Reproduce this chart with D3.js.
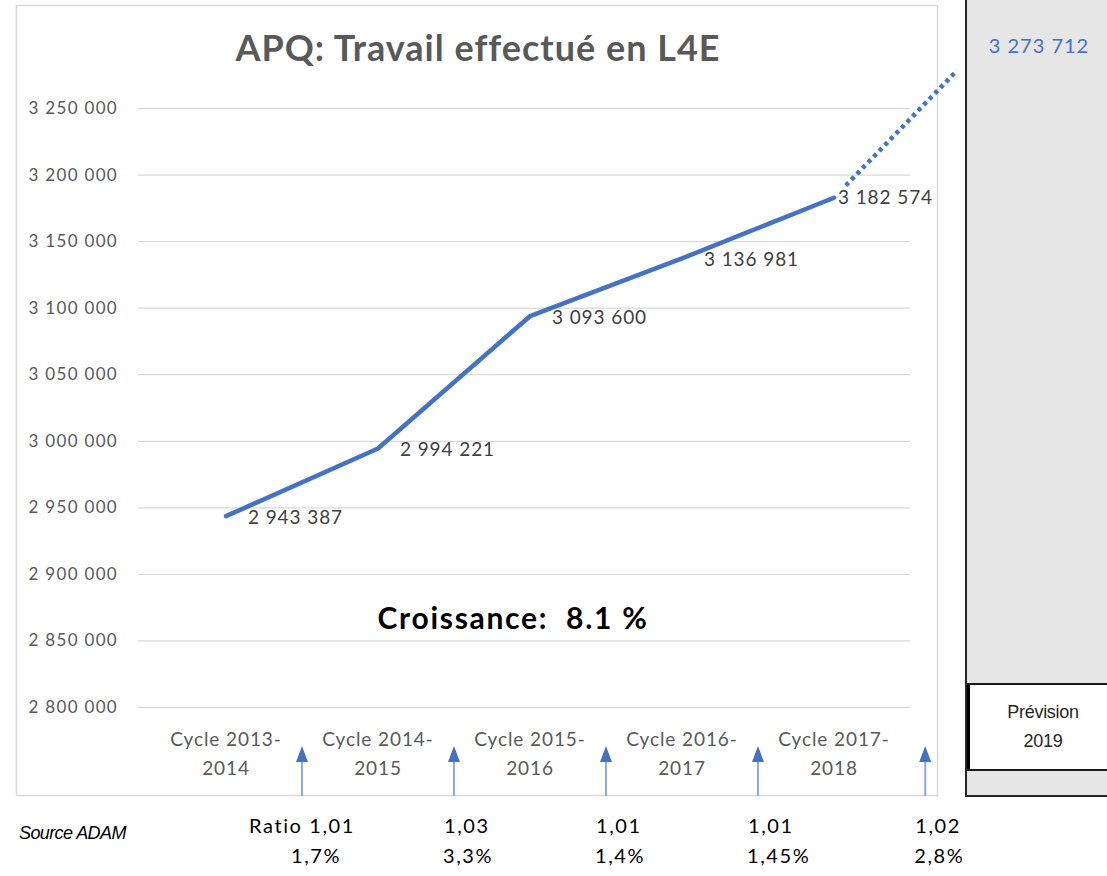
<!DOCTYPE html>
<html>
<head>
<meta charset="utf-8">
<script src="https://cdn.jsdelivr.net/npm/d3@7"></script>
<style>
  body { margin: 0; background: #fff; }
  svg { display: block; }
</style>
</head>
<body>
<svg id="chart" width="1107" height="876"></svg>
<script>
// chart values
var cycles = ["Cycle 2013-|2014", "Cycle 2014-|2015", "Cycle 2015-|2016", "Cycle 2016-|2017", "Cycle 2017-|2018"];
var travail = [2943387, 2994221, 3093600, 3136981, 3182574];
var prevision = 3273712;
var yTicks = [2800000, 2850000, 2900000, 2950000, 3000000, 3050000, 3100000, 3150000, 3200000, 3250000];
var ratios = ["Ratio 1,01", "1,03", "1,01", "1,01", "1,02"];
var pcts = ["1,7%", "3,3%", "1,4%", "1,45%", "2,8%"];
var arrowAt = [1, 2, 3, 4, 5.1];   // in category units (band boundaries)
var titleText = "APQ: Travail effectué en L4E";
var croissance = "Croissance:  8.1 %";

function drawChart() {
    var svg = d3.select("svg");
    svg.selectAll("*").remove();

    var font = "Lato, 'Open Sans', sans-serif",
        arial = "'Liberation Sans', Arial, sans-serif";
    var grey = "#595959",
        blue = "#4472c4";

    var fr = d3.formatLocale({decimal: ",", thousands: " ", grouping: [3], currency: ["", ""]});
    var fmt = fr.format(",d");

    var xScale = d3.scaleBand().domain(d3.range(cycles.length)).range([150, 910]),
        yScale = d3.scaleLinear().domain([2800000, 3250000]).range([707, 108]);
    var step = xScale.step();
    var cx = function(i) { return xScale(i) + xScale.bandwidth() / 2; };
    var bx = function(u) { return 150 + u * step; };

    // right grey panel
    svg.append("rect").attr("x", 966).attr("y", -2).attr("width", 150).attr("height", 798)
        .attr("fill", "#e6e6e6").attr("stroke", "#262626").attr("stroke-width", 2);
    svg.append("rect").attr("x", 968).attr("y", 684).attr("width", 145).attr("height", 86)
        .attr("fill", "#fff").attr("stroke", "#1a1a1a").attr("stroke-width", 2);
    svg.append("line").attr("x1", 968.5).attr("x2", 968.5).attr("y1", 684).attr("y2", 770)
        .attr("stroke", "#000").attr("stroke-width", 3);
    svg.append("text").attr("x", 1043).attr("y", 713).attr("text-anchor", "middle")
        .attr("dominant-baseline", "middle")
        .style("font-family", arial).style("font-size", "18px").style("letter-spacing", "-0.3px")
        .attr("fill", "#262626").text("Prévision");
    svg.append("text").attr("x", 1043).attr("y", 742).attr("text-anchor", "middle")
        .attr("dominant-baseline", "middle")
        .style("font-family", arial).style("font-size", "18px").style("letter-spacing", "-0.3px")
        .attr("fill", "#262626").text("2019");
    svg.append("text").attr("x", 1039).attr("y", 48).attr("text-anchor", "middle")
        .attr("dominant-baseline", "middle")
        .style("font-family", font).style("font-size", "20px").style("letter-spacing", "1px")
        .attr("fill", blue).text(fmt(prevision));

    // chart frame
    svg.append("rect").attr("x", 16.5).attr("y", 5.5).attr("width", 921).attr("height", 790)
        .attr("fill", "#fff").attr("stroke", "#d9d9d9").attr("stroke-width", 1.5);

    // title
    svg.append("text").attr("x", 478).attr("y", 52).attr("text-anchor", "middle")
        .attr("dominant-baseline", "middle")
        .style("font-family", font).style("font-size", "36px").style("font-weight", "bold")
        .style("letter-spacing", "1px")
        .attr("fill", grey).text(titleText);

    // y axis + gridlines
    var yAxis = svg.append("g").attr("transform", "translate(138,0)")
        .call(d3.axisLeft(yScale).tickValues(yTicks).tickFormat(fmt).tickSize(-772).tickPadding(20));
    yAxis.select(".domain").remove();
    yAxis.selectAll(".tick line").attr("stroke", "#d9d9d9").attr("stroke-width", 1.3);
    yAxis.selectAll(".tick text").attr("fill", grey)
        .style("font-family", font).style("font-size", "17px").style("letter-spacing", "1.3px");

    // x labels, two lines
    var xl = svg.append("g").selectAll("text").data(cycles).enter().append("text")
        .attr("text-anchor", "middle")
        .style("font-family", font).style("font-size", "19px").style("letter-spacing", "0.9px")
        .attr("fill", grey);
    xl.each(function(d, i) {
        var parts = d.split("|");
        d3.select(this).selectAll("tspan").data(parts).enter().append("tspan")
            .attr("x", cx(i)).attr("y", function(p, j) { return 746 + j * 29; })
            .text(function(p) { return p; });
    });

    // main line
    var line = d3.line()
        .x(function(d, i) { return cx(i); })
        .y(function(d) { return yScale(d); });
    svg.append("path").datum(travail).attr("d", line)
        .attr("fill", "none").attr("stroke", blue).attr("stroke-width", 4.5)
        .attr("stroke-linejoin", "round").attr("stroke-linecap", "round");

    // dotted forecast line
    var last = travail.length - 1;
    var x0 = cx(last), y0 = yScale(travail[last]);
    var x1 = cx(last) + step * 0.81, y1 = yScale(prevision) - 6;
    var len = Math.hypot(x1 - x0, y1 - y0);
    var sx = x0 + (x1 - x0) * 17 / len, sy = y0 + (y1 - y0) * 17 / len;
    svg.append("line").attr("x1", sx).attr("y1", sy).attr("x2", x1).attr("y2", y1)
        .attr("stroke", blue).attr("stroke-width", 4.5).attr("stroke-dasharray", "4 4");

    // data labels
    svg.append("g").selectAll("text").data(travail).enter().append("text")
        .attr("x", function(d, i) { return cx(i) + (i === last ? 4 : 22); })
        .attr("y", function(d, i) { return yScale(d) + (i === last ? 1 : 3); })
        .attr("dominant-baseline", "middle")
        .style("font-family", font).style("font-size", "19px").style("letter-spacing", "0.9px")
        .attr("fill", "#404040")
        .text(function(d) { return fmt(d); });

    // croissance
    svg.append("text").attr("x", 513).attr("y", 621).attr("text-anchor", "middle")
        .attr("dominant-baseline", "middle")
        .style("font-family", font).style("font-size", "30px").style("font-weight", "bold")
        .style("letter-spacing", "1.7px")
        .style("white-space", "pre").attr("xml:space", "preserve")
        .attr("fill", "#000").text(croissance);

    // arrows
    var ag = svg.append("g").selectAll("g").data(arrowAt).enter().append("g")
        .attr("transform", function(d) { return "translate(" + bx(d) + ",0)"; });
    ag.append("line").attr("x1", 0).attr("x2", 0).attr("y1", 796).attr("y2", 760)
        .attr("stroke", "#8faadc").attr("stroke-width", 2);
    ag.append("path").attr("d", "M-6,762L0,746L6,762Z").attr("fill", blue);

    // ratios under the chart
    var rg = svg.append("g").selectAll("g").data(arrowAt).enter().append("g")
        .attr("transform", function(d) { return "translate(" + bx(d) + ",0)"; });
    rg.append("text").attr("x", function(d, i) { return i === 0 ? 0 : -10; }).attr("y", 828)
        .attr("text-anchor", function(d, i) { return i === 0 ? "middle" : "start"; })
        .attr("dominant-baseline", "middle")
        .style("font-family", font).style("font-size", "20px").style("letter-spacing", "1.6px")
        .attr("fill", "#000")
        .text(function(d, i) { return ratios[i]; });
    rg.append("text").attr("x", -11).attr("y", 858)
        .attr("dominant-baseline", "middle")
        .style("font-family", font).style("font-size", "20px").style("letter-spacing", "1.6px")
        .attr("fill", "#000")
        .text(function(d, i) { return pcts[i]; });

    svg.append("text").attr("x", 19).attr("y", 834).attr("dominant-baseline", "middle")
        .style("font-family", arial).style("font-size", "18px")
        .style("font-style", "italic").style("letter-spacing", "-0.6px")
        .attr("fill", "#000").text("Source ADAM");
}

drawChart();
</script>
</body>
</html>
